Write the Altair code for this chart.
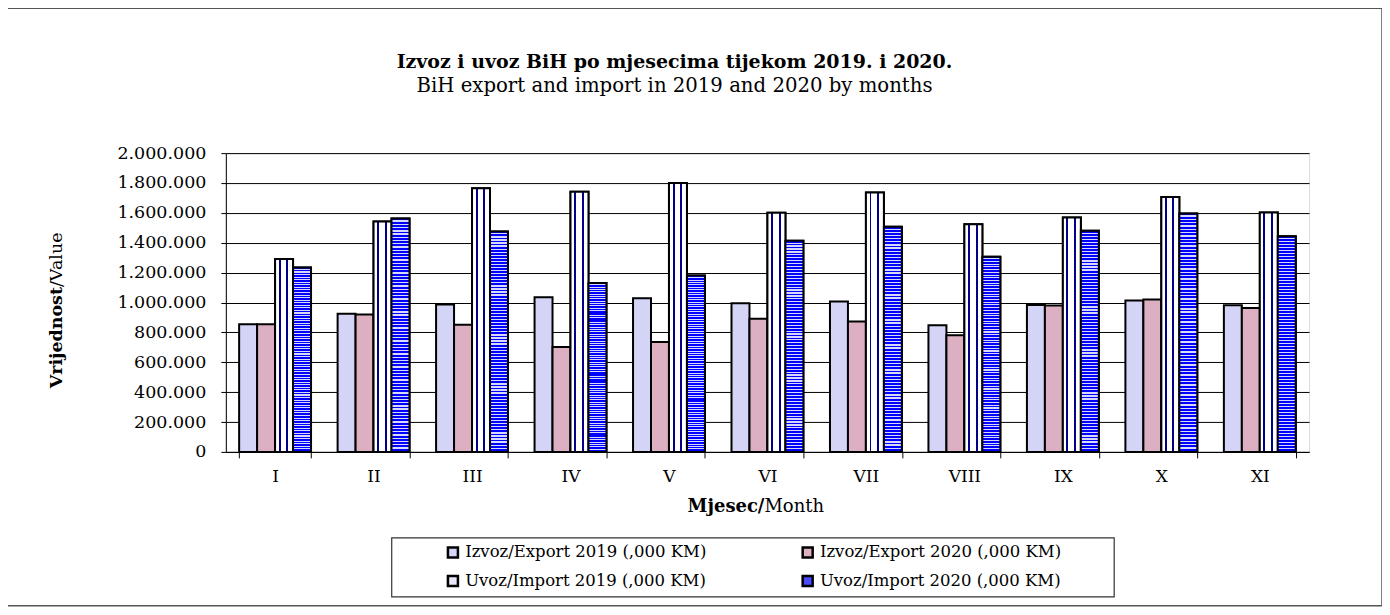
import altair as alt
import pandas as pd

months = ["I", "II", "III", "IV", "V", "VI", "VII", "VIII", "IX", "X", "XI"]
series = ["Izvoz/Export 2019 (,000 KM)", "Izvoz/Export 2020 (,000 KM)",
          "Uvoz/Import 2019 (,000 KM)", "Uvoz/Import 2020 (,000 KM)"]
export_2019 = [855000, 924000, 987000, 1035000, 1029000, 995000, 1007000, 847000, 984000, 1013000, 982000]
export_2020 = [855000, 920000, 851000, 702000, 735000, 891000, 873000, 780000, 980000, 1020000, 964000]
import_2019 = [1291000, 1542000, 1764000, 1742000, 1800000, 1600000, 1736000, 1524000, 1569000, 1707000, 1602000]
import_2020 = [1235000, 1562000, 1476000, 1131000, 1180000, 1413000, 1507000, 1307000, 1480000, 1596000, 1444000]
y_ticks = [0, 200000, 400000, 600000, 800000, 1000000, 1200000, 1400000, 1600000, 1800000, 2000000]

title = "Izvoz i uvoz BiH po mjesecima tijekom 2019. i 2020."
subtitle = "BiH export and import in 2019 and 2020 by months"

rows = []
for s, vals in zip(series, [export_2019, export_2020, import_2019, import_2020]):
    for m, v in zip(months, vals):
        rows.append({"month": m, "series": s, "value": v})
df = pd.DataFrame(rows)

FONT = "DejaVu Serif"
W, H = 1084, 299

x_enc = alt.X("month:N", sort=months, scale=alt.Scale(paddingInner=0.27, paddingOuter=0.135),
              axis=alt.Axis(title=None, labelAngle=0, tickBand="extent", tickSize=6,
                            tickColor="black", domainColor="black", labelFont=FONT,
                            labelFontSize=17, labelColor="black", labelPadding=11, grid=False))
xo_enc = alt.XOffset("series:N", sort=series, scale=alt.Scale(domain=series, paddingInner=0, paddingOuter=0))
y_enc = alt.Y("value:Q", scale=alt.Scale(domain=[0, 2000000], nice=False),
              axis=alt.Axis(title=None, values=y_ticks, tickSize=5, tickColor="black",
                            domainColor="black", gridColor="black", gridWidth=1,
                            labelFont=FONT, labelFontSize=17.5, labelColor="black", labelPadding=15,
                            labelExpr="replace(format(datum.value, ','), regexp(',', 'g'), '.')"))

base = alt.Chart(df)

bars = base.mark_bar(stroke="black", strokeWidth=2).encode(
    x=x_enc, xOffset=xo_enc, y=y_enc,
    color=alt.Color("series:N", sort=series,
                    scale=alt.Scale(domain=series, range=["#d4d4f6", "#dcb0c2", "#e6e6f6", "#4a4aff"]),
                    legend=alt.Legend(orient="none", legendX=219, legendY=391, columns=2, title=None,
                                      direction="horizontal",
                                      symbolType="square", symbolSize=100, symbolStrokeColor="black",
                                      symbolStrokeWidth=2.5, labelFont=FONT, labelFontSize=16.5,
                                      labelColor="black", labelOffset=4, labelLimit=500,
                                      columnPadding=90, rowPadding=8, padding=0)),
)

navy = "#00008b"
imp19_grad = alt.Gradient(gradient="linear", x1=0, y1=0, x2=1, y2=0, stops=[
    alt.GradientStop(offset=0, color="white"), alt.GradientStop(offset=0.2, color="white"),
    alt.GradientStop(offset=0.2, color=navy), alt.GradientStop(offset=0.31, color=navy),
    alt.GradientStop(offset=0.31, color="white"), alt.GradientStop(offset=0.62, color="white"),
    alt.GradientStop(offset=0.62, color=navy), alt.GradientStop(offset=0.73, color=navy),
    alt.GradientStop(offset=0.73, color="white"), alt.GradientStop(offset=1, color="white"),
])
N = 72
stops = []
for i in range(N):
    a, b, c = i / N, (i + 0.6) / N, (i + 1) / N
    stops += [alt.GradientStop(offset=a, color="#0000ff"), alt.GradientStop(offset=b, color="#0000ff"),
              alt.GradientStop(offset=b, color="#d8d8ff"), alt.GradientStop(offset=c, color="#d8d8ff")]
imp20_grad = alt.Gradient(gradient="linear", x1=0, y1=0, x2=0, y2=1, stops=stops)

imp19 = base.transform_filter(alt.datum.series == series[2]).mark_bar(
    fill=imp19_grad, stroke="black", strokeWidth=2).encode(x=x_enc, xOffset=xo_enc, y=y_enc)
imp20 = base.transform_filter(alt.datum.series == series[3]).mark_bar(
    fill=imp20_grad, stroke="black", strokeWidth=2).encode(x=x_enc, xOffset=xo_enc, y=y_enc)

one = pd.DataFrame({"k": [0]})

def txt(s, x, y, weight="normal", align="center", angle=0, size=16):
    return alt.Chart(one).mark_text(font=FONT, fontSize=size, fontWeight=weight, align=align,
                                    baseline="middle", angle=angle, color="black").encode(
        x=alt.value(x), y=alt.value(y), text=alt.value(s))

outer = alt.Chart(one).mark_rect(filled=False, stroke="#555555", strokeWidth=1.5).encode(
    x=alt.value(-219), x2=alt.value(1157), y=alt.value(-145), y2=alt.value(453))
legend_box = alt.Chart(one).mark_rect(filled=False, stroke="#333333", strokeWidth=1.2).encode(
    x=alt.value(166), x2=alt.value(889), y=alt.value(385), y2=alt.value(444))

chart = alt.layer(
    outer, legend_box, bars, imp19, imp20,
    txt(title, 449, -91, weight="bold", size=19),
    txt(subtitle, 449, -67, size=19.7),
    txt("Mjesec/", 539, 354, weight="bold", align="right", size=18),
    txt("Month", 539, 354, align="left", size=18),
    txt("Vrijednost", -169, 134, weight="bold", align="right", angle=270, size=17.5),
    txt("/Value", -169, 134, align="left", angle=270, size=17.5),
).properties(
    width=W, height=H,
    padding={"left": 218, "top": 145, "right": 73, "bottom": 155},
    autosize=alt.AutoSizeParams(type="none"),
).configure_view(stroke="#808080", strokeWidth=2).configure(background="white")

chart.save("out.html", embed_options={"renderer": "svg", "actions": False})
